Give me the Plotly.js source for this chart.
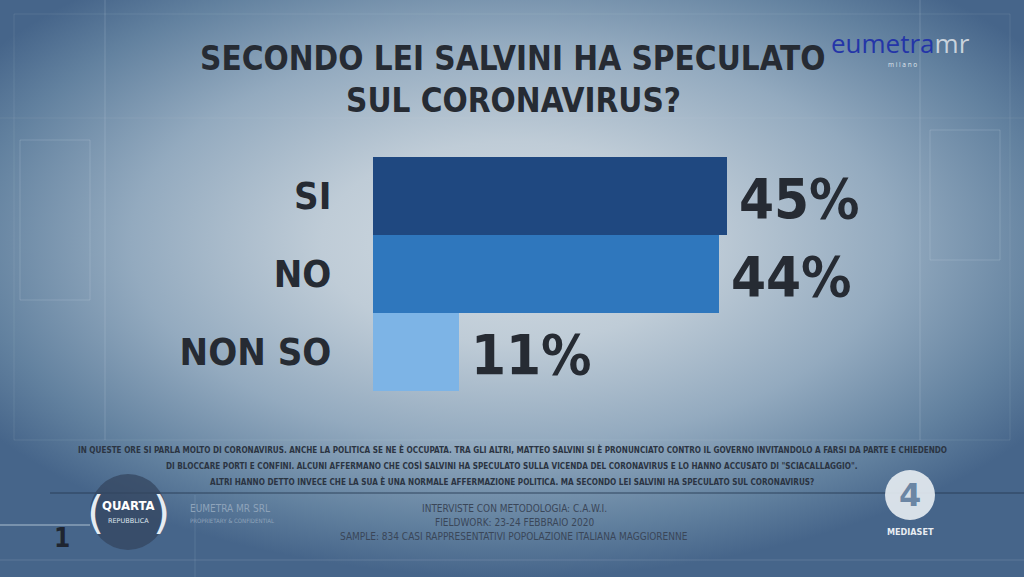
<!DOCTYPE html>
<html>
<head>
<meta charset="utf-8">
<script src="https://cdn.plot.ly/plotly-3.0.1.min.js"></script>
<style>
  html, body { margin: 0; padding: 0; }
  body {
    width: 1024px; height: 577px; overflow: hidden;
    background:
      radial-gradient(ellipse 62% 58% at 50% 42%, #d3dce3 0%, #bfccd7 30%, #93aabf 60%, #62819f 85%, #46658a 100%);
  }
  #chart { width: 1024px; height: 577px; }
</style>
</head>
<body>
<div id="chart"></div>
<script>
// Survey answers and shares (%)
const categories = ['SI', 'NO', 'NON SO'];
const shares = [45, 44, 11];
const barColors = ['#1f4880', '#2f77bd', '#7db4e6'];

const titleLines = ['SECONDO LEI SALVINI HA SPECULATO', 'SUL CORONAVIRUS?'];
const questionLines = [
  'IN QUESTE ORE SI PARLA MOLTO DI CORONAVIRUS. ANCHE LA POLITICA SE NE È OCCUPATA. TRA GLI ALTRI, MATTEO SALVINI SI È PRONUNCIATO CONTRO IL GOVERNO INVITANDOLO A FARSI DA PARTE E CHIEDENDO',
  'DI BLOCCARE PORTI E CONFINI. ALCUNI AFFERMANO CHE COSÌ SALVINI HA SPECULATO SULLA VICENDA DEL CORONAVIRUS E LO HANNO ACCUSATO DI "SCIACALLAGGIO".',
  'ALTRI HANNO DETTO INVECE CHE LA SUA È UNA NORMALE AFFERMAZIONE POLITICA. MA SECONDO LEI SALVINI HA SPECULATO SUL CORONAVIRUS?'
];
const methodLines = [
  'INTERVISTE CON METODOLOGIA: C.A.W.I.',
  'FIELDWORK: 23-24 FEBBRAIO 2020',
  'SAMPLE: 834 CASI RAPPRESENTATIVI POPOLAZIONE ITALIANA MAGGIORENNE'
];
const companyLines = ['EUMETRA MR SRL', 'PROPRIETARY & CONFIDENTIAL'];
const pageNumber = '1';

const W = 1024, H = 577;
const px = v => v / W;          // page pixel -> paper x
const py = v => 1 - v / H;      // page pixel -> paper y

const INK = '#262b33';
const HEAVY = '"DejaVu Sans Condensed", "DejaVu Sans", sans-serif';

const trace = {
  type: 'bar',
  orientation: 'h',
  x: shares,
  y: categories,
  marker: { color: barColors, line: { width: 0 } },
  hoverinfo: 'skip'
};

const annotations = [];

// chart title, two centred lines
titleLines.forEach((t, i) => {
  annotations.push({
    x: px(513), y: py(58 + i * 43), xref: 'paper', yref: 'paper',
    text: t, showarrow: false, xanchor: 'center', yanchor: 'middle',
    font: { family: HEAVY, size: 33, color: INK, weight: 'bold' }
  });
});

// value labels next to each bar
categories.forEach((c, i) => {
  annotations.push({
    x: shares[i], y: c, xref: 'x', yref: 'y',
    text: shares[i] + '%', showarrow: false,
    xanchor: 'left', yanchor: 'middle', xshift: 10, yshift: -3,
    font: { family: HEAVY, size: 56, color: INK, weight: 'bold' }
  });
});

// question text
questionLines.forEach((t, i) => {
  annotations.push({
    x: px(512), y: py(449 + i * 16.5), xref: 'paper', yref: 'paper',
    text: t, showarrow: false, xanchor: 'center', yanchor: 'middle',
    font: { family: HEAVY, size: 8.1, color: '#2b3442', weight: 'bold' }
  });
});

// methodology block
methodLines.forEach((t, i) => {
  annotations.push({
    x: px(514), y: py(508 + i * 14), xref: 'paper', yref: 'paper',
    text: t, showarrow: false, xanchor: 'center', yanchor: 'middle',
    font: { family: HEAVY, size: 10, color: '#3a4658' }
  });
});

// company block
annotations.push({
  x: px(188), y: py(508), xref: 'paper', yref: 'paper',
  text: companyLines[0], showarrow: false, xanchor: 'left', yanchor: 'middle',
  font: { family: HEAVY, size: 10, color: '#8ea3ba' }
});
annotations.push({
  x: px(188), y: py(520), xref: 'paper', yref: 'paper',
  text: companyLines[1], showarrow: false, xanchor: 'left', yanchor: 'middle',
  font: { family: HEAVY, size: 6, color: '#8ea3ba' }
});

// page number
annotations.push({
  x: px(62), y: py(538), xref: 'paper', yref: 'paper',
  text: pageNumber, showarrow: false, xanchor: 'center', yanchor: 'middle',
  font: { family: HEAVY, size: 26, color: '#1f2530', weight: 'bold' }
});

// programme badge
annotations.push({
  x: px(128), y: py(505), xref: 'paper', yref: 'paper',
  text: 'QUARTA', showarrow: false, xanchor: 'center', yanchor: 'middle',
  font: { family: HEAVY, size: 13, color: '#ffffff', weight: 'bold' }
});
annotations.push({
  x: px(128), y: py(521), xref: 'paper', yref: 'paper',
  text: 'REPUBBLICA', showarrow: false, xanchor: 'center', yanchor: 'middle',
  font: { family: '"DejaVu Sans", sans-serif', size: 6.5, color: '#dfe6ee' }
});
annotations.push({
  x: px(95), y: py(512), xref: 'paper', yref: 'paper',
  text: '(', showarrow: false, xanchor: 'center', yanchor: 'middle',
  font: { family: '"DejaVu Sans", sans-serif', size: 44, color: '#e6ecf2' }
});
annotations.push({
  x: px(161), y: py(512), xref: 'paper', yref: 'paper',
  text: ')', showarrow: false, xanchor: 'center', yanchor: 'middle',
  font: { family: '"DejaVu Sans", sans-serif', size: 44, color: '#e6ecf2' }
});

// pollster logo
annotations.push({
  x: px(829), y: py(43), xref: 'paper', yref: 'paper',
  text: '<span style="color:#2435a8">eumetra</span><span style="color:#c9d2dc">mr</span>',
  showarrow: false, xanchor: 'left', yanchor: 'middle',
  font: { family: '"Open Sans", sans-serif', size: 26 }
});
annotations.push({
  x: px(902), y: py(65), xref: 'paper', yref: 'paper',
  text: 'm i l a n o', showarrow: false, xanchor: 'center', yanchor: 'middle',
  font: { family: '"Open Sans", sans-serif', size: 6.5, color: '#dfe5ec' }
});

// channel logo
annotations.push({
  x: px(910), y: py(495), xref: 'paper', yref: 'paper',
  text: '4', showarrow: false, xanchor: 'center', yanchor: 'middle',
  font: { family: '"DejaVu Sans", sans-serif', size: 32, color: '#6b86a4', weight: 'bold' }
});
annotations.push({
  x: px(910), y: py(532), xref: 'paper', yref: 'paper',
  text: 'MEDIASET', showarrow: false, xanchor: 'center', yanchor: 'middle',
  font: { family: HEAVY, size: 9, color: '#e8edf2', weight: 'bold' }
});

const line = (x0, y0, x1, y1, color, width) => ({
  type: 'line', xref: 'paper', yref: 'paper',
  x0: px(x0), y0: py(y0), x1: px(x1), y1: py(y1),
  line: { color: color, width: width }, layer: 'below'
});
const rect = (x0, y0, x1, y1, color) => ({
  type: 'rect', xref: 'paper', yref: 'paper',
  x0: px(x0), y0: py(y0), x1: px(x1), y1: py(y1),
  line: { color: color, width: 1 }, layer: 'below'
});

const faint = 'rgba(225,235,245,0.18)';
const shapes = [
  // decorative frame lines
  rect(14, 14, 1010, 440, 'rgba(225,235,245,0.10)'),
  line(105, 0, 105, 440, faint, 1),
  line(920, 0, 920, 440, faint, 1),
  line(0, 118, 1024, 118, 'rgba(225,235,245,0.08)', 1),
  rect(930, 130, 1000, 260, faint),
  rect(20, 140, 90, 300, faint),
  line(0, 560, 1024, 560, 'rgba(225,235,245,0.15)', 1),
  line(195, 495, 195, 577, 'rgba(225,235,245,0.12)', 1),
  // footer separator
  line(50, 493, 1024, 493, 'rgba(40,60,85,0.45)', 2),
  line(0, 525, 90, 525, 'rgba(225,235,245,0.45)', 1.5),
  // programme badge disc
  { type: 'circle', xref: 'paper', yref: 'paper',
    x0: px(90), y0: py(474), x1: px(166), y1: py(550),
    fillcolor: 'rgba(52,70,95,0.75)', line: { width: 0 }, layer: 'below' },
  // channel disc
  { type: 'circle', xref: 'paper', yref: 'paper',
    x0: px(885), y0: py(470), x1: px(935), y1: py(520),
    fillcolor: 'rgba(228,234,240,0.92)', line: { width: 0 }, layer: 'below' }
];

const layout = {
  width: W, height: H,
  margin: { l: 0, r: 0, t: 0, b: 0 },
  paper_bgcolor: 'rgba(0,0,0,0)',
  plot_bgcolor: 'rgba(0,0,0,0)',
  showlegend: false,
  bargap: 0,
  xaxis: {
    domain: [px(373), px(847)],
    range: [0, 60.3],
    visible: false, fixedrange: true
  },
  yaxis: {
    domain: [py(391), py(157)],
    type: 'category',
    autorange: 'reversed',
    showgrid: false, zeroline: false, showline: false,
    ticks: 'outside', ticklen: 33, tickcolor: 'rgba(0,0,0,0)',
    tickfont: { family: HEAVY, size: 38, color: INK, weight: 'bold' },
    automargin: false, fixedrange: true
  },
  annotations: annotations,
  shapes: shapes
};

Plotly.newPlot('chart', [trace], layout, { staticPlot: true, displayModeBar: false });
</script>
</body>
</html>
